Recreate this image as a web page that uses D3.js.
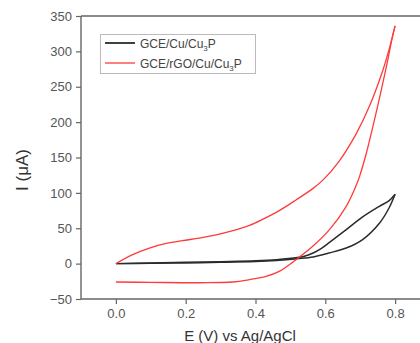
<!DOCTYPE html>
<html>
<head>
<meta charset="utf-8">
<script src="https://cdn.jsdelivr.net/npm/d3@7"></script>
<style>
  html, body { margin: 0; padding: 0; background: #fff; }
  svg { display: block; font-family: "Liberation Sans", Arial, sans-serif; }
</style>
</head>
<body>
<svg id="chart" width="420" height="343"></svg>
<script>
// Cyclic voltammograms: potential (V vs Ag/AgCl) and current (µA)
const cuAnodicE   = [0, 0.1, 0.2, 0.3, 0.4, 0.46, 0.52, 0.565, 0.61, 0.66, 0.707, 0.755, 0.783, 0.8];
const cuAnodicI   = [0, 0.5, 1, 1.8, 3, 4.5, 7, 9.5, 15, 22, 34, 57, 79, 98];
const cuCathodicE = [0.8, 0.783, 0.755, 0.707, 0.66, 0.612, 0.59, 0.565, 0.54, 0.52, 0.46, 0.4, 0.3, 0.2, 0.1, 0];
const cuCathodicI = [98, 89, 81, 66, 48, 30, 22, 15, 10.5, 8.5, 5.5, 4, 2.8, 1.8, 0.8, 0];

const rgoAnodicE   = [0, 0.048, 0.096, 0.144, 0.19, 0.239, 0.287, 0.335, 0.383, 0.42, 0.468, 0.516, 0.564, 0.593, 0.64, 0.688, 0.726, 0.764, 0.784, 0.8];
const rgoAnodicI   = [0, 12.7, 22, 28.5, 32.5, 36, 40.5, 46.5, 54, 62.5, 75, 90, 106, 118, 145, 183, 222, 272, 305, 336];
const rgoCathodicE = [0.8, 0.793, 0.774, 0.745, 0.717, 0.698, 0.688, 0.66, 0.612, 0.564, 0.516, 0.468, 0.43, 0.383, 0.335, 0.239, 0.1, 0];
const rgoCathodicI = [336, 322, 276, 212, 155, 123, 110, 81, 48, 24.5, 5.6, -11, -18, -22.6, -26, -27, -26.5, -26];

const xTicks = [0.0, 0.2, 0.4, 0.6, 0.8];
const xMinorTicks = [-0.1, 0.1, 0.3, 0.5, 0.7, 0.9];
const yTicks = [-50, 0, 50, 100, 150, 200, 250, 300, 350];
const yMinorTicks = [-25, 25, 75, 125, 175, 225, 275, 325];

const seriesNames = ["GCE/Cu/Cu", "GCE/rGO/Cu/Cu"];
const seriesColors = ["#2b2b2b", "#ff3a3a"];

const svg = d3.select("#chart");
const x = d3.scaleLinear().domain([-0.1, 0.9]).range([81, 430]);
const y = d3.scaleLinear().domain([-50, 350]).range([299, 16]);
const axisColor = "#666";
const labelColor = "#555";

// frame (top and right edges)
svg.append("path")
  .attr("d", `M${x(-0.1)},${y(350)}H${x(0.9)}V${y(-50)}`)
  .attr("fill", "none").attr("stroke", axisColor).attr("stroke-width", 1.4);

// x axis
const gx = svg.append("g").attr("transform", `translate(0,${y(-50)})`);
gx.call(d3.axisBottom(x).tickValues(xMinorTicks).tickSize(3).tickFormat(""));
gx.call(d3.axisBottom(x).tickValues(xTicks).tickSize(5).tickPadding(5).tickFormat(d3.format(".1f")));
gx.selectAll("path.domain").attr("stroke", axisColor).attr("stroke-width", 1.4);
gx.selectAll("line").attr("stroke", axisColor).attr("stroke-width", 1.2);
gx.selectAll("text").attr("fill", labelColor).attr("font-size", 13).attr("font-family", "Liberation Sans, Arial, sans-serif");

// y axis
const gy = svg.append("g").attr("transform", `translate(${x(-0.1)},0)`);
gy.call(d3.axisLeft(y).tickValues(yMinorTicks).tickSize(3).tickFormat(""));
gy.call(d3.axisLeft(y).tickValues(yTicks).tickSize(5).tickPadding(4).tickFormat(d3.format("d")));
gy.selectAll("path.domain").attr("stroke", axisColor).attr("stroke-width", 1.4);
gy.selectAll("line").attr("stroke", axisColor).attr("stroke-width", 1.2);
gy.selectAll("text").attr("fill", labelColor).attr("font-size", 13).attr("font-family", "Liberation Sans, Arial, sans-serif");
gx.selectAll("path.domain").attr("d", `M${x(-0.1)},0H${x(0.9)}`);
gy.selectAll("path.domain").attr("d", `M0,${y(-50)}V${y(350)}`);

// axis titles
svg.append("text")
  .attr("x", 240).attr("y", 341)
  .attr("text-anchor", "middle").attr("font-size", 15).attr("fill", "#333")
  .text("E (V) vs Ag/AgCl");
svg.append("text")
  .attr("transform", "translate(28,170) rotate(-90)")
  .attr("text-anchor", "middle").attr("font-size", 17).attr("fill", "#333")
  .text("I (μA)");

// curves
const line = d3.line().x(d => x(d[0])).y(d => y(d[1])).curve(d3.curveCatmullRom.alpha(0.5));
const scans = [
  [cuAnodicE, cuAnodicI, 0], [cuCathodicE, cuCathodicI, 0],
  [rgoAnodicE, rgoAnodicI, 1], [rgoCathodicE, rgoCathodicI, 1]
];
scans.forEach(([es, is, k]) => {
  svg.append("path")
    .datum(d3.zip(es, is))
    .attr("d", line)
    .attr("fill", "none")
    .attr("stroke", seriesColors[k])
    .attr("stroke-width", k === 0 ? 1.5 : 1.3)
    .attr("stroke-linejoin", "round");
});

// legend
const lg = svg.append("g");
lg.append("rect").attr("x", 100.5).attr("y", 34.5).attr("width", 155).attr("height", 39)
  .attr("fill", "#fff").attr("stroke", "#bbb").attr("stroke-width", 1);
seriesNames.forEach((name, i) => {
  const yy = 43 + i * 20;
  lg.append("line").attr("x1", 105).attr("x2", 135).attr("y1", yy).attr("y2", yy)
    .attr("stroke", seriesColors[i]).attr("stroke-width", i === 0 ? 1.8 : 1.3);
  const t = lg.append("text").attr("x", 140).attr("y", yy + 4.5)
    .attr("font-size", 12).attr("fill", "#444");
  t.append("tspan").text(name);
  t.append("tspan").attr("font-size", 8).attr("dy", 3).text("3");
  t.append("tspan").attr("dy", -3).text("P");
});
</script>
</body>
</html>
